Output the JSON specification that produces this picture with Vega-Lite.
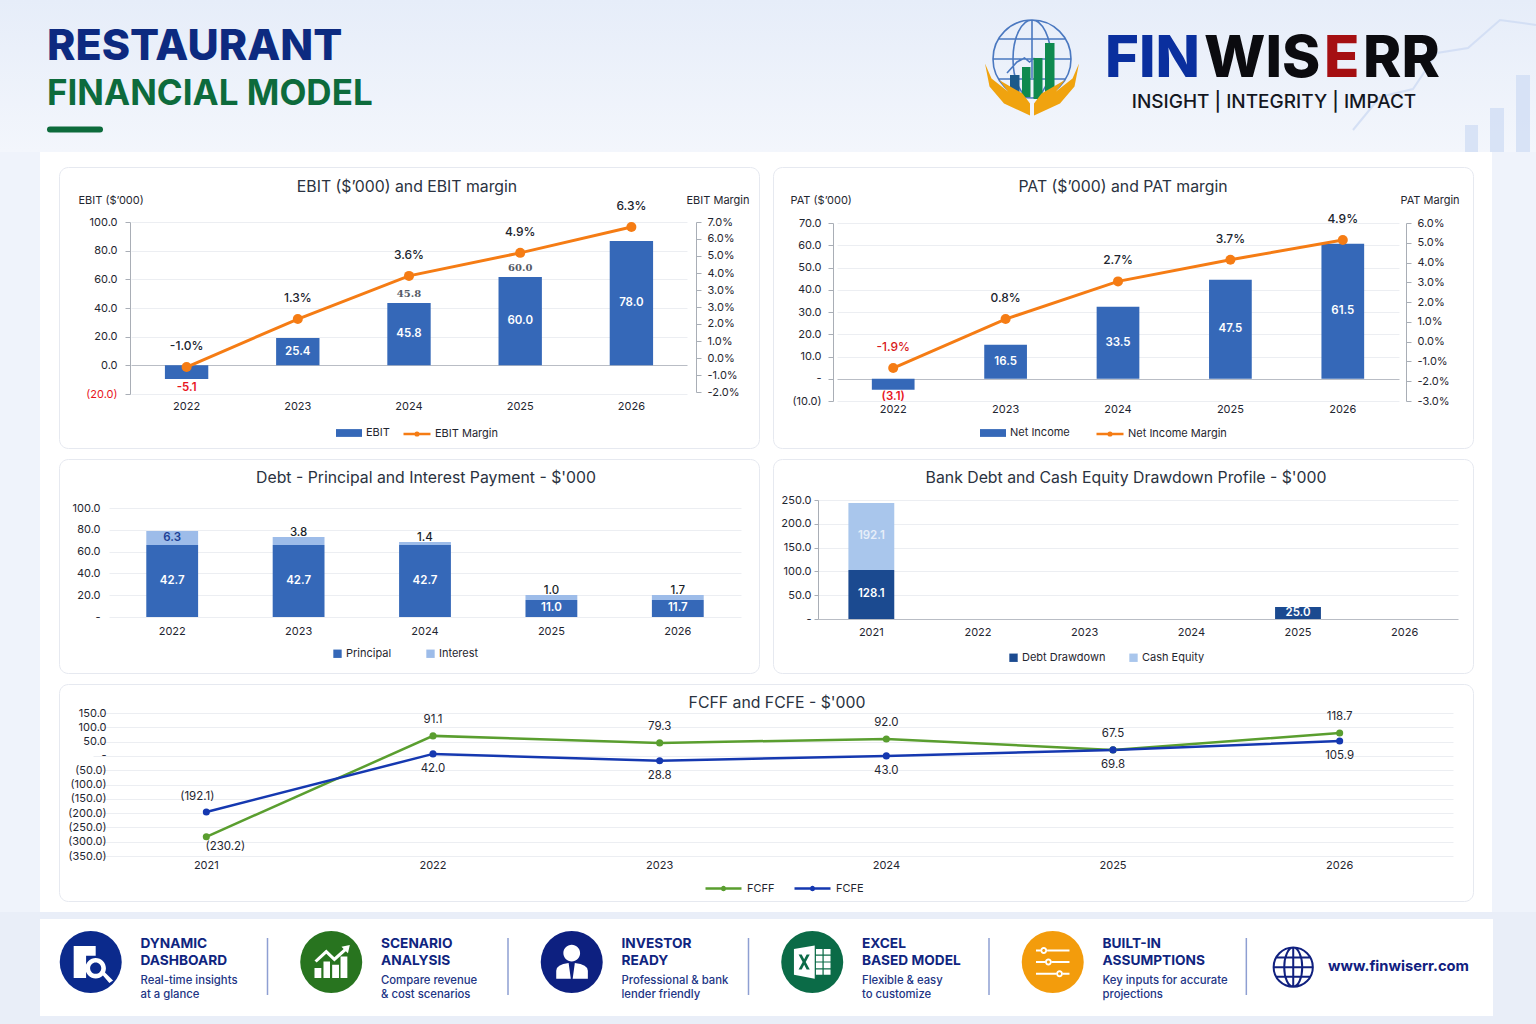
{"$schema":"https://vega.github.io/schema/vega-lite/v6.json","padding":0,"background":"#ffffff","spacing":0,"bounds":"full",
"resolve":{"scale":{"fill":"independent","stroke":"independent","color":"independent","shape":"independent"}},
"config":{"font":"Inter","view":{"stroke":null},"axis":{"labelFont":"Inter","labelFontSize":11,"labelColor":"#1f2630","titleFont":"Inter","titleFontSize":11,"titleFontWeight":400,"titleColor":"#1f2630","gridColor":"#eceef2","domainColor":"#a9aeb6","tickColor":"#a9aeb6","labelOverlap":false,"labelFlush":false},"legend":{"labelFont":"Inter","labelFontSize":11,"labelColor":"#1f2630"},"title":{"font":"Inter","fontSize":15.8,"fontWeight":400,"color":"#2a3240","anchor":"middle","frame":"group"}},
"vconcat":[
{"width":1536,"height":152,"layer":[
 {"data":{"values":[{"panel":"header"}]},"mark":{"type":"rect","fill":{"gradient":"linear","x1":0,"y1":0,"x2":0,"y2":1,"stops":[{"offset":0,"color":"#e6edf9"},{"offset":1,"color":"#f3f6fc"}]}},"encoding":{}},
 {"data":{"values":[{"panel":"deco"}]},"mark":{"type":"point","filled":true,"fill":"#cfdcf4","opacity":0.75,"size":40000,"shape":"M.25,.45H.38V.72H.25Z M.5,.28H.64V.72H.5Z M.76,-.05H.9V.72H.76Z"},"encoding":{"x":{"datum":1440,"type":"quantitative","scale":{"domain":[0,1536]},"axis":null},"y":{"datum":80,"type":"quantitative","scale":{"domain":[152,0]},"axis":null}}},
 {"data":{"values":[{"panel":"deco"}]},"mark":{"type":"point","filled":false,"stroke":"#cfdcf4","strokeWidth":2,"opacity":0.8,"size":40000,"shape":"M-.87,.5L-.6,.17L-.27,.09L-.03,-.27L.28,-.32L.6,-.6L.96,-.55"},"encoding":{"x":{"datum":1440,"type":"quantitative","scale":{"domain":[0,1536]},"axis":null},"y":{"datum":80,"type":"quantitative","scale":{"domain":[152,0]},"axis":null}}},
 {"data":{"values":[{"label":"RESTAURANT"}]},"mark":{"type":"text","align":"left","baseline":"alphabetic","fontSize":43,"fontWeight":800,"color":"#0d2a80"},"encoding":{"text":{"field":"label"},"x":{"datum":47,"type":"quantitative","scale":{"domain":[0,1536]},"axis":null},"y":{"datum":60,"type":"quantitative","scale":{"domain":[152,0]},"axis":null}}},
 {"data":{"values":[{"label":"FINANCIAL MODEL"}]},"mark":{"type":"text","align":"left","baseline":"alphabetic","fontSize":35,"fontWeight":700,"color":"#0d6b3c"},"encoding":{"text":{"field":"label"},"x":{"datum":47,"type":"quantitative","scale":{"domain":[0,1536]},"axis":null},"y":{"datum":105,"type":"quantitative","scale":{"domain":[152,0]},"axis":null}}},
 {"data":{"values":[{"a":47,"b":103}]},"mark":{"type":"rule","stroke":"#0d6b3c","strokeWidth":6,"strokeCap":"round"},"encoding":{"x":{"datum":50,"type":"quantitative","scale":{"domain":[0,1536]},"axis":null},"x2":{"datum":100},"y":{"datum":129.5,"type":"quantitative","scale":{"domain":[152,0]},"axis":null}}},
 {"data":{"values":[{"panel":"logo"}]},"mark":{"type":"point","filled":false,"stroke":"#4a78c0","strokeWidth":1.6,"size":10000,"opacity":1,"shape":"M-.78,-.18A.78,.78 0 1 1 .78,-.18A.78,.78 0 1 1 -.78,-.18Z M0,-.96A.38,.78 0 0 0 0,.6A.38,.78 0 0 0 0,-.96Z M0,-.96V.2 M-.78,-.18H.78 M-.66,-.58H.66 M-.66,.22H.66 M-.5,.1L-.3,-.12L-.15,-.2L-.05,-.12L.05,-.2"},"encoding":{"x":{"datum":1032,"type":"quantitative","scale":{"domain":[0,1536]},"axis":null},"y":{"datum":68,"type":"quantitative","scale":{"domain":[152,0]},"axis":null}}},
 {"data":{"values":[{"panel":"logo"}]},"mark":{"type":"point","filled":true,"fill":"#1c5a8a","size":10000,"opacity":1,"shape":"M-.44,.14H-.25V.48H-.44Z"},"encoding":{"x":{"datum":1032,"type":"quantitative","scale":{"domain":[0,1536]},"axis":null},"y":{"datum":68,"type":"quantitative","scale":{"domain":[152,0]},"axis":null}}},
 {"data":{"values":[{"panel":"logo"}]},"mark":{"type":"point","filled":true,"fill":"#0f8a4f","size":10000,"opacity":1,"shape":"M-.2,-.02H-.03V.58H-.2Z M.03,-.2H.21V.62H.03Z M.26,-.5H.45V.48H.26Z"},"encoding":{"x":{"datum":1032,"type":"quantitative","scale":{"domain":[0,1536]},"axis":null},"y":{"datum":68,"type":"quantitative","scale":{"domain":[152,0]},"axis":null}}},
 {"data":{"values":[{"panel":"logo"}]},"mark":{"type":"point","filled":true,"fill":"#f0a30f","size":10000,"opacity":1,"shape":"M-.94,-.09L-.81,.21L-.48,.47L-.66,.24L-.19,.51L-.04,.71V.95L-.56,.71L-.85,.37Z M.94,-.09L.81,.21L.48,.47L.66,.24L.19,.51L.04,.71V.95L.56,.71L.85,.37Z"},"encoding":{"x":{"datum":1032,"type":"quantitative","scale":{"domain":[0,1536]},"axis":null},"y":{"datum":68,"type":"quantitative","scale":{"domain":[152,0]},"axis":null}}},
 {"data":{"values":[{"label":"FIN"}]},"mark":{"type":"text","align":"left","baseline":"alphabetic","fontSize":58,"fontWeight":800,"color":"#0a2f9e"},"encoding":{"text":{"field":"label"},"x":{"datum":1105,"type":"quantitative","scale":{"domain":[0,1536]},"axis":null},"y":{"datum":77,"type":"quantitative","scale":{"domain":[152,0]},"axis":null}}},
 {"data":{"values":[{"label":"WIS"}]},"mark":{"type":"text","align":"left","baseline":"alphabetic","fontSize":58,"fontWeight":800,"color":"#0b0b0f"},"encoding":{"text":{"field":"label"},"x":{"datum":1204,"type":"quantitative","scale":{"domain":[0,1536]},"axis":null},"y":{"datum":77,"type":"quantitative","scale":{"domain":[152,0]},"axis":null}}},
 {"data":{"values":[{"label":"E"}]},"mark":{"type":"text","align":"left","baseline":"alphabetic","fontSize":58,"fontWeight":800,"color":"#a50f12"},"encoding":{"text":{"field":"label"},"x":{"datum":1324,"type":"quantitative","scale":{"domain":[0,1536]},"axis":null},"y":{"datum":77,"type":"quantitative","scale":{"domain":[152,0]},"axis":null}}},
 {"data":{"values":[{"label":"RR"}]},"mark":{"type":"text","align":"left","baseline":"alphabetic","fontSize":58,"fontWeight":800,"color":"#0b0b0f"},"encoding":{"text":{"field":"label"},"x":{"datum":1363,"type":"quantitative","scale":{"domain":[0,1536]},"axis":null},"y":{"datum":77,"type":"quantitative","scale":{"domain":[152,0]},"axis":null}}},
 {"data":{"values":[{"label":"INSIGHT | INTEGRITY | IMPACT"}]},"mark":{"type":"text","align":"center","baseline":"alphabetic","fontSize":19,"fontWeight":500,"color":"#14171f"},"encoding":{"text":{"field":"label"},"x":{"datum":1274,"type":"quantitative","scale":{"domain":[0,1536]},"axis":null},"y":{"datum":108,"type":"quantitative","scale":{"domain":[152,0]},"axis":null}}}
]},
{"hconcat":[
 {"width":40,"height":760,"data":{"values":[{"panel":"margin"}]},"mark":{"type":"rect","fill":"#eff3fb"},"encoding":{}},
 {"vconcat":[
  {"width":1414,"height":5,"data":{"values":[{"panel":"gap"}]},"mark":{"type":"rect","fill":"#ffffff"},"encoding":{}},
  {"hconcat":[
   {"width":700,"height":281,"view":{"fill":"#ffffff","stroke":"#e6e9f0","cornerRadius":9},
    "title":{"text":"EBIT ($’000) and EBIT margin","offset":-29,"dx":-2},
    "data":{"values":[
     {"year":"2022","bar_level":-9.6,"inside":"","below":"-5.1","ghost":"","margin_level":-1.0,"margin_label":"-1.0%"},
     {"year":"2023","bar_level":19,"inside":"25.4","below":"","ghost":"","margin_level":1.5,"margin_label":"1.3%"},
     {"year":"2024","bar_level":43.5,"inside":"45.8","below":"","ghost":"45.8","margin_level":3.75,"margin_label":"3.6%"},
     {"year":"2025","bar_level":61.6,"inside":"60.0","below":"","ghost":"60.0","margin_level":4.95,"margin_label":"4.9%"},
     {"year":"2026","bar_level":86.7,"inside":"78.0","below":"","ghost":"","margin_level":6.3,"margin_label":"6.3%"}]},
    "encoding":{"x":{"field":"year","type":"nominal","scale":{"type":"band","domain":["2022","2023","2024","2025","2026"],"range":[72,628],"paddingInner":0,"paddingOuter":0},"axis":{"title":null,"labelAngle":0,"domain":false,"ticks":false,"tickSize":0,"grid":false,"offset":-50,"orient":"bottom"}}},
    "layer":[
     {"encoding":{"y":{"field":"bar_level","type":"quantitative","stack":"zero","scale":{"domain":[-20,100],"range":[227,55],"nice":false,"zero":false},"axis":{"orient":"left","offset":-71,"values":[-20,0,20,40,60,80,100],"grid":true,"gridColor":{"condition":{"test":"datum.value===0","value":"#b9bdc5"},"value":"#eceef2"},"tickSize":5,"labelPadding":8,"labelExpr":"datum.value<0?'('+format(-datum.value,'.1f')+')':format(datum.value,'.1f')","labelColor":{"condition":{"test":"datum.value<0","value":"#e8141c"},"value":"#1f2630"},"title":"EBIT ($’000)","titleAngle":0,"titleX":-52,"titleY":33,"titleAlign":"left","titleBaseline":"middle"}}},
      "layer":[
      {"mark":{"type":"bar","width":{"band":0.39}},"encoding":{"fill":{"datum":"EBIT","scale":{"range":["#3568b8"]},"legend":{"title":null,"orient":"none","legendX":276,"legendY":252,"symbolType":"M-1,-.3H1V.3H-1Z","symbolSize":676,"labelOffset":3,"padding":0}}}},
      {"mark":{"type":"text","color":"#ffffff","fontWeight":600,"fontSize":11.5,"baseline":"middle"},"encoding":{"text":{"field":"inside"},"y":{"field":"bar_level","type":"quantitative","stack":"zero","bandPosition":0.5}}},
      {"mark":{"type":"text","color":"#e8141c","fontWeight":600,"fontSize":11.5,"baseline":"middle","dy":9},"encoding":{"text":{"field":"below"}}},
      {"mark":{"type":"text","color":"#555b66","font":"DejaVu Serif","fontWeight":600,"fontSize":10,"baseline":"middle","dy":-9},"encoding":{"text":{"field":"ghost"}}}
     ]},
     {"encoding":{"y":{"field":"margin_level","type":"quantitative","scale":{"domain":[-2.303,6.559],"range":[225,55],"nice":false,"zero":false},"axis":{"orient":"right","offset":-63,"values":[-2.303,-1.417,-0.531,0.355,1.242,2.128,3.014,3.9,4.787,5.673,6.559],"grid":false,"tickSize":5,"labelPadding":6,"labelExpr":"['-2.0%','-1.0%','0.0%','1.0%','2.0%','3.0%','3.0%','4.0%','5.0%','6.0%','7.0%'][round((datum.value+2.303)/0.8862)]","title":"EBIT Margin","titleAngle":0,"titleX":-10,"titleY":33,"titleAlign":"left","titleBaseline":"middle"}}},
      "layer":[
      {"mark":{"type":"line","strokeWidth":3},"encoding":{"stroke":{"datum":"EBIT Margin","scale":{"range":["#f57c14"]},"legend":{"title":null,"orient":"none","legendX":343,"legendY":252,"symbolType":"M-1,0H1M.1,0A.1,.1 0 1 1 -.1,0A.1,.1 0 1 1 .1,0Z","symbolSize":729,"symbolStrokeWidth":2.5,"labelOffset":3,"padding":0}}}},
      {"mark":{"type":"point","filled":true,"fill":"#f57c14","size":100,"opacity":1}},
      {"mark":{"type":"text","fontWeight":500,"fontSize":12,"color":"#20242e","baseline":"middle","dy":-21},"encoding":{"text":{"field":"margin_label"}}}
     ]}
    ],
    "resolve":{"scale":{"y":"independent"},"axis":{"y":"independent"}}},
   {"width":700,"height":281,"view":{"fill":"#ffffff","stroke":"#e6e9f0","cornerRadius":9},
    "title":{"text":"PAT ($’000) and PAT margin","offset":-29},
    "data":{"values":[
     {"year":"2022","bar_level":-4.9,"inside":"","below":"(3.1)","margin_level":-1.9,"margin_label":"-1.9%"},
     {"year":"2023","bar_level":15.3,"inside":"16.5","below":"","margin_level":0.7,"margin_label":"0.8%"},
     {"year":"2024","bar_level":32.4,"inside":"33.5","below":"","margin_level":2.7,"margin_label":"2.7%"},
     {"year":"2025","bar_level":44.5,"inside":"47.5","below":"","margin_level":3.85,"margin_label":"3.7%"},
     {"year":"2026","bar_level":60.7,"inside":"61.5","below":"","margin_level":4.9,"margin_label":"4.9%"}]},
    "encoding":{"x":{"field":"year","type":"nominal","scale":{"type":"band","domain":["2022","2023","2024","2025","2026"],"range":[64,626],"paddingInner":0,"paddingOuter":0},"axis":{"title":null,"labelAngle":0,"domain":false,"ticks":false,"tickSize":0,"grid":false,"offset":-47,"orient":"bottom"}}},
    "layer":[
     {"encoding":{"y":{"field":"bar_level","type":"quantitative","stack":"zero","scale":{"domain":[-10,70],"range":[234,56],"nice":false,"zero":false},"axis":{"orient":"left","offset":-60,"values":[-10,0,10,20,30,40,50,60,70],"grid":true,"gridColor":{"condition":{"test":"datum.value===0","value":"#b9bdc5"},"value":"#eceef2"},"tickSize":5,"labelPadding":7,"labelExpr":"datum.value<0?'('+format(-datum.value,'.1f')+')':datum.value===0?'-':format(datum.value,'.1f')","title":"PAT ($’000)","titleAngle":0,"titleX":-43,"titleY":33,"titleAlign":"left","titleBaseline":"middle"}}},
      "layer":[
      {"mark":{"type":"bar","width":{"band":0.38}},"encoding":{"fill":{"datum":"Net Income","scale":{"range":["#3568b8"]},"legend":{"title":null,"orient":"none","legendX":206,"legendY":252,"symbolType":"M-1,-.3H1V.3H-1Z","symbolSize":676,"labelOffset":3,"padding":0}}}},
      {"mark":{"type":"text","color":"#ffffff","fontWeight":600,"fontSize":11.5,"baseline":"middle"},"encoding":{"text":{"field":"inside"},"y":{"field":"bar_level","type":"quantitative","stack":"zero","bandPosition":0.5}}},
      {"mark":{"type":"text","color":"#e8141c","fontWeight":600,"fontSize":11.5,"baseline":"middle","dy":7},"encoding":{"text":{"field":"below"}}}
     ]},
     {"encoding":{"y":{"field":"margin_level","type":"quantitative","scale":{"domain":[-3.65,5.8],"range":[234,56],"nice":false,"zero":false},"axis":{"orient":"right","offset":-67,"values":[-3.65,-2.6,-1.55,-0.5,0.55,1.6,2.65,3.7,4.75,5.8],"grid":false,"tickSize":5,"labelPadding":6,"labelExpr":"['-3.0%','-2.0%','-1.0%','0.0%','1.0%','2.0%','3.0%','4.0%','5.0%','6.0%'][round((datum.value+3.65)/1.05)]","title":"PAT Margin","titleAngle":0,"titleX":-6,"titleY":33,"titleAlign":"left","titleBaseline":"middle"}}},
      "layer":[
      {"mark":{"type":"line","strokeWidth":3},"encoding":{"stroke":{"datum":"Net Income Margin","scale":{"range":["#f57c14"]},"legend":{"title":null,"orient":"none","legendX":322,"legendY":252,"symbolType":"M-1,0H1M.1,0A.1,.1 0 1 1 -.1,0A.1,.1 0 1 1 .1,0Z","symbolSize":729,"symbolStrokeWidth":2.5,"labelOffset":3,"padding":0}}}},
      {"mark":{"type":"point","filled":true,"fill":"#f57c14","size":100,"opacity":1}},
      {"mark":{"type":"text","fontWeight":500,"fontSize":12,"baseline":"middle","dy":-21},"encoding":{"text":{"field":"margin_label"},"color":{"condition":{"test":"datum.margin_level<0","value":"#d81920"},"value":"#20242e"}}}
     ]}
    ],
    "resolve":{"scale":{"y":"independent"},"axis":{"y":"independent"}}}
  ],"spacing":14,"bounds":"flush","resolve":{"scale":{"fill":"independent","stroke":"independent","color":"independent"}}},
  {"hconcat":[
   {"width":700,"height":214,"view":{"fill":"#ffffff","stroke":"#e6e9f0","cornerRadius":9},
    "title":{"text":"Debt - Principal and Interest Payment - $'000","offset":-28,"dx":17},
    "data":{"values":[
     {"year":"2022","series":"Principal","rank":1,"height_level":66,"inside":"42.7","above":""},
     {"year":"2022","series":"Interest","rank":2,"height_level":12.8,"inside":"6.3","above":""},
     {"year":"2023","series":"Principal","rank":1,"height_level":66,"inside":"42.7","above":""},
     {"year":"2023","series":"Interest","rank":2,"height_level":7.3,"inside":"","above":"3.8"},
     {"year":"2024","series":"Principal","rank":1,"height_level":66,"inside":"42.7","above":""},
     {"year":"2024","series":"Interest","rank":2,"height_level":2.8,"inside":"","above":"1.4"},
     {"year":"2025","series":"Principal","rank":1,"height_level":15.6,"inside":"11.0","above":""},
     {"year":"2025","series":"Interest","rank":2,"height_level":4.6,"inside":"","above":"1.0"},
     {"year":"2026","series":"Principal","rank":1,"height_level":15.6,"inside":"11.7","above":""},
     {"year":"2026","series":"Interest","rank":2,"height_level":4.6,"inside":"","above":"1.7"}]},
    "encoding":{"x":{"field":"year","type":"nominal","scale":{"type":"band","domain":["2022","2023","2024","2025","2026"],"range":[50,682],"paddingInner":0,"paddingOuter":0},"axis":{"title":null,"labelAngle":0,"domain":false,"ticks":false,"tickSize":0,"grid":false,"offset":-50,"orient":"bottom"}},
     "y":{"field":"height_level","type":"quantitative","stack":"zero","scale":{"domain":[0,100],"range":[158,49],"nice":false,"zero":false},"axis":{"orient":"left","offset":-46,"values":[0,20,40,60,80,100],"grid":true,"domain":false,"ticks":false,"tickSize":0,"labelPadding":5,"labelExpr":"datum.value===0?'-':format(datum.value,'.1f')","title":null}},
     "order":{"field":"rank","type":"quantitative"},"detail":{"field":"series"}},
    "layer":[
     {"mark":{"type":"bar","width":{"band":0.41}},"encoding":{"fill":{"field":"series","type":"nominal","scale":{"domain":["Principal","Interest"],"range":["#3568b8","#9dbce9"]},"legend":{"title":null,"orient":"none","legendX":273,"legendY":189,"direction":"horizontal","columns":2,"symbolType":"square","symbolSize":70,"symbolStrokeWidth":0,"columnPadding":33,"labelOffset":3,"padding":0}}}},
     {"mark":{"type":"text","fontWeight":600,"fontSize":11.5,"baseline":"middle"},"encoding":{"text":{"field":"inside"},"y":{"field":"height_level","type":"quantitative","stack":"zero","bandPosition":0.5},"color":{"condition":{"test":"datum.series==='Principal'","value":"#ffffff"},"value":"#1c3f94"}}},
     {"mark":{"type":"text","fontWeight":500,"fontSize":11.5,"baseline":"middle","dy":-4,"color":"#1a1f29"},"encoding":{"text":{"field":"above"},"y":{"field":"height_level","type":"quantitative","stack":"zero","bandPosition":1}}}
    ]},
   {"width":700,"height":214,"view":{"fill":"#ffffff","stroke":"#e6e9f0","cornerRadius":9},
    "title":{"text":"Bank Debt and Cash Equity Drawdown Profile - $'000","offset":-28,"dx":3},
    "data":{"values":[
     {"year":"2021","series":"Debt Drawdown","rank":1,"height_level":103,"inside":"128.1"},
     {"year":"2021","series":"Cash Equity","rank":2,"height_level":140.7,"inside":"192.1"},
     {"year":"2025","series":"Debt Drawdown","rank":1,"height_level":25.2,"inside":"25.0"}]},
    "encoding":{"x":{"field":"year","type":"nominal","scale":{"type":"band","domain":["2021","2022","2023","2024","2025","2026"],"range":[45,685],"paddingInner":0,"paddingOuter":0},"axis":{"title":null,"labelAngle":0,"domain":false,"ticks":false,"tickSize":0,"grid":false,"offset":-49,"orient":"bottom"}},
     "y":{"field":"height_level","type":"quantitative","stack":"zero","scale":{"domain":[0,250],"range":[160,41],"nice":false,"zero":false},"axis":{"orient":"left","offset":-45,"values":[0,50,100,150,200,250],"grid":true,"gridColor":{"condition":{"test":"datum.value===0","value":"#b9bdc5"},"value":"#eceef2"},"tickSize":4,"labelPadding":3,"labelExpr":"datum.value===0?'-':format(datum.value,'.1f')","title":null}},
     "order":{"field":"rank","type":"quantitative"},"detail":{"field":"series"}},
    "layer":[
     {"mark":{"type":"bar","width":{"band":0.43}},"encoding":{"fill":{"field":"series","type":"nominal","scale":{"domain":["Debt Drawdown","Cash Equity"],"range":["#1b4a90","#a9c6ec"]},"legend":{"title":null,"orient":"none","legendX":235,"legendY":193,"direction":"horizontal","columns":2,"symbolType":"square","symbolSize":70,"symbolStrokeWidth":0,"columnPadding":22,"labelOffset":3,"padding":0}}}},
     {"mark":{"type":"text","fontWeight":600,"fontSize":11.5,"baseline":"middle"},"encoding":{"text":{"field":"inside"},"y":{"field":"height_level","type":"quantitative","stack":"zero","bandPosition":0.5},"color":{"condition":{"test":"datum.series==='Cash Equity'","value":"#e6eef9"},"value":"#ffffff"}}}
    ]}
  ],"spacing":14,"bounds":"flush","resolve":{"scale":{"fill":"independent","stroke":"independent","color":"independent"}}},
  {"width":1414,"height":217,"view":{"fill":"#ffffff","stroke":"#e6e9f0","cornerRadius":9},
   "title":{"text":"FCFF and FCFE - $'000","offset":-28,"dx":11},
   "data":{"values":[
    {"year":"2021","series":"FCFF","level":-283,"above":"","below":""},
    {"year":"2022","series":"FCFF","level":70,"above":"91.1","below":""},
    {"year":"2023","series":"FCFF","level":45.5,"above":"79.3","below":""},
    {"year":"2024","series":"FCFF","level":59,"above":"92.0","below":""},
    {"year":"2025","series":"FCFF","level":21,"above":"67.5","below":""},
    {"year":"2026","series":"FCFF","level":80,"above":"118.7","below":""},
    {"year":"2021","series":"FCFE","level":-196,"above":"","below":""},
    {"year":"2022","series":"FCFE","level":7,"above":"","below":"42.0"},
    {"year":"2023","series":"FCFE","level":-17,"above":"","below":"28.8"},
    {"year":"2024","series":"FCFE","level":0,"above":"","below":"43.0"},
    {"year":"2025","series":"FCFE","level":21,"above":"","below":"69.8"},
    {"year":"2026","series":"FCFE","level":52,"above":"","below":"105.9"}]},
   "encoding":{"x":{"field":"year","type":"nominal","scale":{"type":"band","domain":["2021","2022","2023","2024","2025","2026"],"range":[34,1394],"paddingInner":0,"paddingOuter":0},"axis":{"title":null,"labelAngle":0,"domain":false,"ticks":false,"tickSize":0,"grid":false,"offset":-44,"orient":"bottom"}},
    "y":{"field":"level","type":"quantitative","scale":{"domain":[-350,150],"range":[172,29],"nice":false,"zero":false},"axis":{"orient":"left","offset":-53,"values":[-350,-300,-250,-200,-150,-100,-50,0,50,100,150],"grid":true,"domain":false,"ticks":false,"tickSize":0,"labelPadding":6,"labelExpr":"datum.value<0?'('+format(-datum.value,'.1f')+')':datum.value===0?'-':format(datum.value,'.1f')","title":null}}},
   "layer":[
    {"mark":{"type":"line","strokeWidth":2.5},"encoding":{"stroke":{"field":"series","type":"nominal","scale":{"domain":["FCFF","FCFE"],"range":["#5a9e2f","#1538b0"]},"legend":{"title":null,"orient":"none","legendX":645,"legendY":185,"direction":"horizontal","columns":2,"symbolType":"M-1,0H1M.08,0A.08,.08 0 1 1 -.08,0A.08,.08 0 1 1 .08,0Z","symbolSize":1296,"symbolStrokeWidth":2.5,"columnPadding":14,"labelOffset":4,"padding":0}}}},
    {"mark":{"type":"point","filled":true,"size":50,"opacity":1},"encoding":{"fill":{"field":"series","type":"nominal","scale":{"domain":["FCFF","FCFE"],"range":["#5a9e2f","#1538b0"]},"legend":null}}},
    {"mark":{"type":"text","fontSize":11.5,"color":"#1f2630","baseline":"middle","dy":-16},"encoding":{"text":{"field":"above"}}},
    {"mark":{"type":"text","fontSize":11.5,"color":"#1f2630","baseline":"middle","dy":15},"encoding":{"text":{"field":"below"}}},
    {"transform":[{"filter":"datum.year==='2021'&&datum.series==='FCFE'"}],"mark":{"type":"text","fontSize":11.5,"color":"#1f2630","baseline":"middle","dy":-15,"dx":-9,"text":"(192.1)"},"encoding":{}},
    {"transform":[{"filter":"datum.year==='2021'&&datum.series==='FCFF'"}],"mark":{"type":"text","fontSize":11.5,"color":"#1f2630","baseline":"middle","dy":10,"dx":19,"text":"(230.2)"},"encoding":{}}
   ]}
 ],"spacing":9,"bounds":"full","resolve":{"scale":{"fill":"independent","stroke":"independent","color":"independent"}}},
 {"width":44,"height":760,"data":{"values":[{"panel":"margin"}]},"mark":{"type":"rect","fill":"#eff3fb"},"encoding":{}}
],"spacing":18,"bounds":"full","resolve":{"scale":{"fill":"independent","stroke":"independent","color":"independent"}}},
{"width":1536,"height":7,"data":{"values":[{"panel":"margin"}]},"mark":{"type":"rect","fill":"#e9eef8"},"encoding":{}},
{"hconcat":[
 {"width":40,"height":97,"data":{"values":[{"panel":"margin"}]},"mark":{"type":"rect","fill":"#e9eef8"},"encoding":{}},
 {"width":1453,"height":97,"view":{"fill":"#ffffff","cornerRadius":14},
  "encoding":{"x":{"field":"item","type":"nominal","scale":{"type":"band","domain":["DASH","SCEN","INV","XLS","BUILT","WEB"],"range":[-13,1430],"paddingInner":0,"paddingOuter":0},"axis":null}},
  "layer":[
   {"data":{"values":[{"item":"DASH"},{"item":"SCEN"},{"item":"INV"},{"item":"XLS"}]},"mark":{"type":"rule","stroke":"#8e9fd2","strokeWidth":1.5},"encoding":{"x":{"field":"item","type":"nominal","bandPosition":1},"y":{"datum":0,"type":"quantitative","scale":{"domain":[0,1],"range":[76,19]},"axis":null},"y2":{"datum":1}}},
   {"data":{"values":[{"item":"BUILT"}]},"mark":{"type":"rule","stroke":"#8e9fd2","strokeWidth":1.5},"encoding":{"x":{"field":"item","type":"nominal","bandPosition":1.07},"y":{"datum":0,"type":"quantitative","scale":{"domain":[0,1],"range":[76,19]},"axis":null},"y2":{"datum":1}}},
   {"data":{"values":[{"item":"DASH"},{"item":"SCEN"},{"item":"INV"},{"item":"XLS"},{"item":"BUILT"}]},"mark":{"type":"point","filled":true,"shape":"circle","size":3844,"opacity":1},"encoding":{"x":{"field":"item","type":"nominal","bandPosition":0.265},"y":{"datum":0,"type":"quantitative","scale":{"domain":[-1,1],"range":[86,0]},"axis":null},"color":{"field":"item","type":"nominal","scale":{"domain":["DASH","SCEN","INV","XLS","BUILT"],"range":["#0b2a8c","#28741f","#0d2080","#0b6b47","#f39c0c"]},"legend":null}}},
   {"data":{"values":[{"item":"DASH"},{"item":"SCEN"},{"item":"INV"},{"item":"XLS"},{"item":"BUILT"}]},"mark":{"type":"point","filled":true,"fill":"#ffffff","size":3844,"opacity":1},"encoding":{"x":{"field":"item","type":"nominal","bandPosition":0.265},"y":{"datum":0,"type":"quantitative","scale":{"domain":[-1,1],"range":[86,0]},"axis":null},"shape":{"field":"item","type":"nominal","scale":{"domain":["DASH","SCEN","INV","XLS","BUILT"],"range":[
    "M-.55,-.52H.16V-.2H-.15V.52H-.55Z M-.17,.2A.33,.33 0 1 1 .49,.2A.33,.33 0 1 1 -.17,.2Z M-.02,.2A.18,.18 0 1 0 .34,.2A.18,.18 0 1 0 -.02,.2Z M.38,.42L.46,.34L.72,.6L.6,.68Z",
    "M-.54,.19H-.32V.52H-.54Z M-.25,-.02H-.04V.52H-.25Z M.03,.09H.25V.52H.03Z M.3,-.18H.52V.52H.3Z M-.54,-.05L-.16,-.4L.1,-.15L.4,-.42L.33,-.49L.6,-.55L.54,-.28L.47,-.35L.1,-.02L-.16,-.27L-.47,.02Z",
    "M-.27,-.29A.27,.27 0 1 1 .27,-.29A.27,.27 0 1 1 -.27,-.29Z M-.5,.54V.28Q-.5,.08 -.1,.03L-.03,.54Z M.52,.54V.28Q.52,.08 .1,.03L.03,.54Z",
    "M-.59,-.42L.08,-.53V.54L-.59,.41Z M-.31,0L-.44,.24H-.34L-.26,.09L-.18,.24H-.08L-.21,0L-.08,-.24H-.18L-.26,-.09L-.34,-.24H-.44Z M.12,-.42H.33V-.24H.12Z M.37,-.42H.59V-.24H.37Z M.12,-.2H.33V-.02H.12Z M.37,-.2H.59V-.02H.37Z M.12,.02H.33V.2H.12Z M.37,.02H.59V.2H.37Z M.12,.24H.33V.41H.12Z M.37,.24H.59V.41H.37Z",
    "M-.54,-.4H-.4V-.34H-.54Z M-.18,-.4H.54V-.34H-.18Z M-.4,-.37A.11,.11 0 1 1 -.18,-.37A.11,.11 0 1 1 -.4,-.37Z M-.34,-.37A.05,.05 0 1 0 -.24,-.37A.05,.05 0 1 0 -.34,-.37Z M-.54,-.03H-.25V.03H-.54Z M-.03,-.03H.54V.03H-.03Z M-.25,0A.11,.11 0 1 1 -.03,0A.11,.11 0 1 1 -.25,0Z M-.19,0A.05,.05 0 1 0 -.09,0A.05,.05 0 1 0 -.19,0Z M-.54,.35H.11V.41H-.54Z M.33,.35H.54V.41H.33Z M.11,.38A.11,.11 0 1 1 .33,.38A.11,.11 0 1 1 .11,.38Z M.17,.38A.05,.05 0 1 0 .27,.38A.05,.05 0 1 0 .17,.38Z"]},"legend":null}}},
   {"data":{"values":[{"item":"WEB"}]},"mark":{"type":"point","filled":false,"stroke":"#10207f","strokeWidth":2,"fillOpacity":0,"size":1600,"opacity":1,"shape":"M-.98,0A.98,.98 0 1 1 .98,0A.98,.98 0 1 1 -.98,0Z M0,-.98A.45,.98 0 0 0 0,.98A.45,.98 0 0 0 0,-.98Z M0,-.98V.98 M-.98,0H.98 M-.85,-.48H.85 M-.85,.48H.85"},"encoding":{"x":{"field":"item","type":"nominal","bandPosition":0.265},"y":{"datum":-0.12,"type":"quantitative","scale":{"domain":[-1,1],"range":[86,0]},"axis":null}}},
   {"data":{"values":[
     {"item":"DASH","line":"h1","label":"DYNAMIC"},{"item":"DASH","line":"h2","label":"DASHBOARD"},
     {"item":"SCEN","line":"h1","label":"SCENARIO"},{"item":"SCEN","line":"h2","label":"ANALYSIS"},
     {"item":"INV","line":"h1","label":"INVESTOR"},{"item":"INV","line":"h2","label":"READY"},
     {"item":"XLS","line":"h1","label":"EXCEL"},{"item":"XLS","line":"h2","label":"BASED MODEL"},
     {"item":"BUILT","line":"h1","label":"BUILT-IN"},{"item":"BUILT","line":"h2","label":"ASSUMPTIONS"}]},
    "mark":{"type":"text","align":"left","baseline":"middle","fontSize":13.7,"fontWeight":700,"color":"#10257f"},"encoding":{"x":{"field":"item","type":"nominal","bandPosition":0.472},"y":{"field":"line","type":"nominal","scale":{"type":"point","domain":["h1","h2"],"range":[25,42],"padding":0},"axis":null},"text":{"field":"label"}}},
   {"data":{"values":[
     {"item":"DASH","line":"s1","label":"Real-time insights"},{"item":"DASH","line":"s2","label":"at a glance"},
     {"item":"SCEN","line":"s1","label":"Compare revenue"},{"item":"SCEN","line":"s2","label":"& cost scenarios"},
     {"item":"INV","line":"s1","label":"Professional & bank"},{"item":"INV","line":"s2","label":"lender friendly"},
     {"item":"XLS","line":"s1","label":"Flexible & easy"},{"item":"XLS","line":"s2","label":"to customize"},
     {"item":"BUILT","line":"s1","label":"Key inputs for accurate"},{"item":"BUILT","line":"s2","label":"projections"}]},
    "mark":{"type":"text","align":"left","baseline":"middle","fontSize":11.3,"fontWeight":500,"color":"#1d3585"},"encoding":{"x":{"field":"item","type":"nominal","bandPosition":0.472},"y":{"field":"line","type":"nominal","scale":{"type":"point","domain":["s1","s2"],"range":[62,76],"padding":0},"axis":null},"text":{"field":"label"}}},
   {"data":{"values":[{"item":"WEB","label":"www.finwiserr.com"}]},"mark":{"type":"text","align":"left","baseline":"middle","fontSize":14.7,"fontWeight":700,"color":"#10207f"},"encoding":{"x":{"field":"item","type":"nominal","bandPosition":0.41},"y":{"datum":-0.12,"type":"quantitative","scale":{"domain":[-1,1],"range":[86,0]},"axis":null},"text":{"field":"label"}}}
  ],
  "resolve":{"scale":{"y":"independent"}}},
 {"width":43,"height":97,"data":{"values":[{"panel":"margin"}]},"mark":{"type":"rect","fill":"#e9eef8"},"encoding":{}}
],"spacing":0,"bounds":"flush"},
{"width":1536,"height":8,"data":{"values":[{"panel":"margin"}]},"mark":{"type":"rect","fill":"#e9eef8"},"encoding":{}}
]}
